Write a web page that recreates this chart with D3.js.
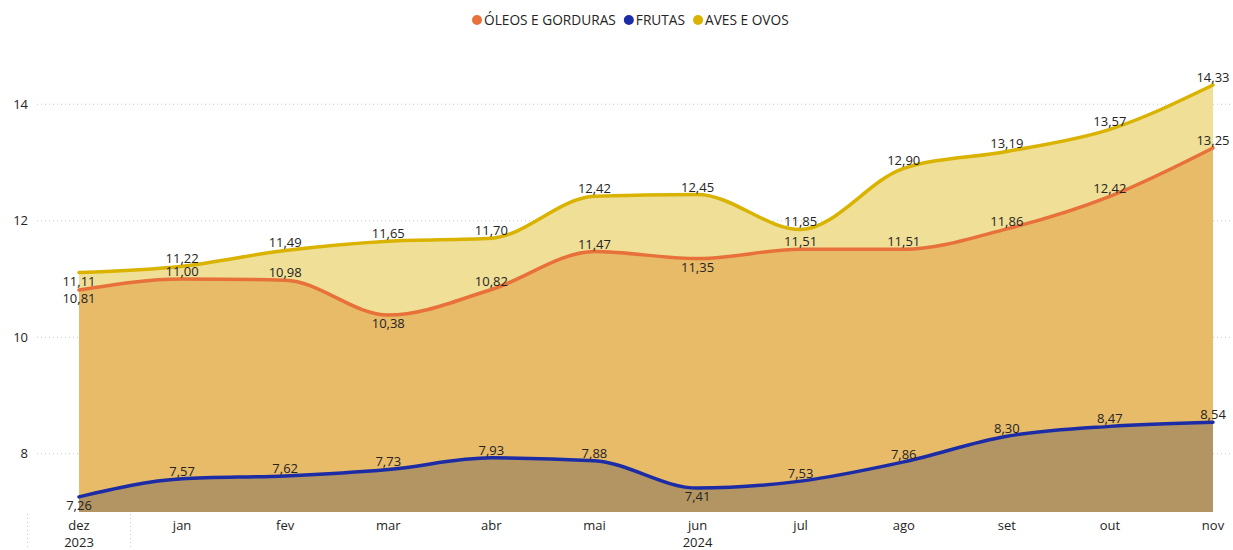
<!DOCTYPE html>
<html>
<head>
<meta charset="utf-8">
<script src="https://cdn.jsdelivr.net/npm/d3@7"></script>
<style>
  body { margin: 0; background: #fff; }
  svg { display: block; font-family: "Segoe UI", "Open Sans", sans-serif; }
</style>
</head>
<body>
<svg></svg>
<script>
var months = ["dez", "jan", "fev", "mar", "abr", "mai", "jun", "jul", "ago", "set", "out", "nov"];
var years = ["2023", "2024", "2024", "2024", "2024", "2024", "2024", "2024", "2024", "2024", "2024", "2024"];
var yTicks = [8, 10, 12, 14];

var avesOvos = [11.11, 11.22, 11.49, 11.65, 11.70, 12.42, 12.45, 11.85, 12.90, 13.19, 13.57, 14.33];
var oleosGorduras = [10.81, 11.00, 10.98, 10.38, 10.82, 11.47, 11.35, 11.51, 11.51, 11.86, 12.42, 13.25];
var frutas = [7.26, 7.57, 7.62, 7.73, 7.93, 7.88, 7.41, 7.53, 7.86, 8.30, 8.47, 8.54];

var legendNames = ["ÓLEOS E GORDURAS", "FRUTAS", "AVES E OVOS"];

var width = 1233;
var height = 550;

var svg = d3.select("svg")
  .attr("width", width)
  .attr("height", height);

var x = d3.scalePoint()
  .domain(months)
  .range([79, 1213]);

var y = d3.scaleLinear()
  .domain([7, 15])
  .range([512, 46]);

// series drawn back to front; "below" = months whose label sits under the line
var series = [
  { name: "AVES E OVOS", values: avesOvos, fill: "#EFDF97", stroke: "#D9B300", below: ["dez"] },
  { name: "ÓLEOS E GORDURAS", values: oleosGorduras, fill: "#E8BB69", stroke: "#E8703A", below: ["dez", "mar", "jun"] },
  { name: "FRUTAS", values: frutas, fill: "#B29563", stroke: "#1C2CA6", below: ["dez", "jun"] }
];
var legendColors = { "ÓLEOS E GORDURAS": "#E8703A", "FRUTAS": "#1C2CA6", "AVES E OVOS": "#D9B300" };

// gridlines + y labels
var grid = svg.append("g");
grid.selectAll("line")
  .data(yTicks).enter()
  .append("line")
  .attr("x1", 37).attr("x2", width)
  .attr("y1", function (d) { return y(d); })
  .attr("y2", function (d) { return y(d); })
  .attr("stroke", "#c8c8c8")
  .attr("stroke-dasharray", "1,3");

grid.selectAll("text")
  .data(yTicks).enter()
  .append("text")
  .attr("x", 28)
  .attr("y", function (d) { return y(d); })
  .attr("dy", "0.35em")
  .attr("text-anchor", "end")
  .attr("font-size", 13)
  .attr("fill", "#252423")
  .text(function (d) { return d; });

var area = d3.area()
  .x(function (d, i) { return x(months[i]); })
  .y0(y(7))
  .y1(function (d) { return y(d); })
  .curve(d3.curveMonotoneX);

var line = d3.line()
  .x(function (d, i) { return x(months[i]); })
  .y(function (d) { return y(d); })
  .curve(d3.curveMonotoneX);

series.forEach(function (s) {
  svg.append("path")
    .attr("d", area(s.values))
    .attr("fill", s.fill);
});

series.forEach(function (s) {
  svg.append("path")
    .attr("d", line(s.values))
    .attr("fill", "none")
    .attr("stroke", s.stroke)
    .attr("stroke-width", 3.5)
    .attr("stroke-linecap", "round");
});

function fmt(v) { return v.toFixed(2).replace(".", ","); }

series.forEach(function (s) {
  svg.append("g").selectAll("text")
    .data(s.values).enter()
    .append("text")
    .attr("x", function (d, i) { return x(months[i]); })
    .attr("y", function (d, i) {
      return s.below.indexOf(months[i]) >= 0 ? y(d) + 13 : y(d) - 3;
    })
    .attr("text-anchor", "middle")
    .attr("font-size", 13)
    .attr("fill", "#252423")
    .text(fmt);
});

// x axis
var xAxis = svg.append("g");
xAxis.selectAll("text")
  .data(months).enter()
  .append("text")
  .attr("x", function (d) { return x(d); })
  .attr("y", 530)
  .attr("text-anchor", "middle")
  .attr("font-size", 13)
  .attr("fill", "#252423")
  .text(function (d) { return d; });

var step = x.step();
var yearGroups = d3.groups(months.map(function (m, i) { return { m: m, yr: years[i] }; }), function (d) { return d.yr; });
yearGroups.forEach(function (g) {
  var first = x(g[1][0].m), last = x(g[1][g[1].length - 1].m);
  xAxis.append("line")
    .attr("x1", first - step / 2).attr("x2", first - step / 2)
    .attr("y1", 514).attr("y2", height)
    .attr("stroke", "#c8c8c8")
    .attr("stroke-dasharray", "1,3");
  xAxis.append("text")
    .attr("x", (first + last) / 2)
    .attr("y", 547)
    .attr("text-anchor", "middle")
    .attr("font-size", 13)
    .attr("fill", "#252423")
    .text(g[0]);
});

// legend
var legend = svg.append("g");
var lx = 472;
legendNames.forEach(function (name) {
  legend.append("circle")
    .attr("cx", lx + 5).attr("cy", 20).attr("r", 5)
    .attr("fill", legendColors[name]);
  var t = legend.append("text")
    .attr("x", lx + 12).attr("y", 20)
    .attr("dy", "0.35em")
    .attr("font-size", 13.7)
    .attr("fill", "#252423")
    .text(name);
  lx += 12 + t.node().getComputedTextLength() + 8;
});
</script>
</body>
</html>
